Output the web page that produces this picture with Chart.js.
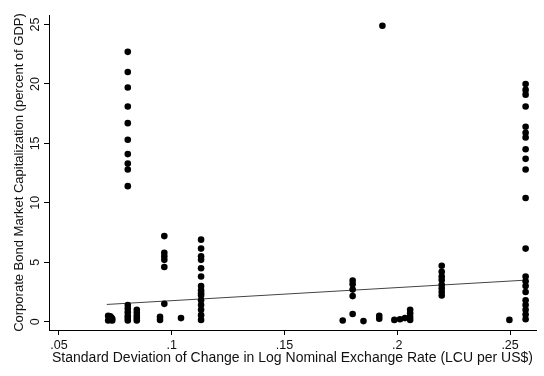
<!DOCTYPE html>
<html>
<head>
<meta charset="utf-8">
<script src="https://cdn.jsdelivr.net/npm/chart.js@4"></script>
<style>
  body { margin: 0; background: #fff; }
  #wrap { width: 544px; height: 376px; }
</style>
</head>
<body>
<div id="wrap"><canvas id="chart"></canvas></div>
<script>
// x position of each column of countries, and the values stacked at it
const colX = [0.0718, 0.0722, 0.0727, 0.0732, 0.0736, 0.0805, 0.0845, 0.0948, 0.0967, 0.1041,
  0.113, 0.1758, 0.1802, 0.185, 0.192, 0.1934, 0.1987, 0.2012, 0.2034, 0.2057, 0.2197, 0.2497, 0.2569];
const colY = [
  [0.5, 0.1], [0.3, 0.4], [0.2, 0.45], [0.35, 0.15], [0.25, 0.1],
  [22.7, 21.0, 19.7, 18.1, 16.7, 15.3, 14.1, 13.3, 12.8, 11.4, 1.4, 1.1, 0.8, 0.5, 0.3, 0.1],
  [1.0, 0.75, 0.5, 0.3, 0.1],
  [0.4, 0.15],
  [7.2, 5.8, 5.5, 5.2, 4.6, 1.5],
  [0.3],
  [6.9, 6.15, 5.5, 5.2, 4.5, 3.8, 3.0, 2.65, 2.4, 2.2, 1.8, 1.4, 1.0, 0.55, 0.15],
  [0.1],
  [3.45, 3.15, 2.7, 2.15, 0.65],
  [0.05],
  [0.5, 0.25],
  [24.9],
  [0.15],
  [0.2],
  [0.3],
  [1.0, 0.7, 0.4, 0.15],
  [4.7, 4.2, 3.8, 3.5, 3.1, 2.8, 2.5, 2.2],
  [0.15],
  [20.0, 19.5, 19.1, 18.1, 16.4, 15.9, 15.5, 14.5, 13.7, 12.8, 10.4, 6.15, 3.8, 3.4, 3.0, 2.5, 1.8, 1.4, 1.0, 0.6, 0.2]
];

// fitted line end points
const fitX = [0.0712, 0.2575];
const fitY = [1.45, 3.5];

const xTicks = [0.05, 0.1, 0.15, 0.2, 0.25];
const xTickLabels = ['.05', '.1', '.15', '.2', '.25'];
const yTicks = [0, 5, 10, 15, 20, 25];
const yTickLabels = ['0', '5', '10', '15', '20', '25'];

const points = [];
colX.forEach((x, i) => {
  colY[i].forEach(y => points.push({ x: x, y: y }));
});
const fitLine = fitX.map((x, i) => ({ x: x, y: fitY[i] }));

const font = 'Liberation Sans, Arial, sans-serif';

new Chart(document.getElementById('chart'), {
  type: 'scatter',
  data: {
    datasets: [
      {
        data: points,
        backgroundColor: '#000',
        borderWidth: 0,
        pointRadius: 3.3
      },
      {
        type: 'line',
        data: fitLine,
        borderColor: '#444',
        borderWidth: 1,
        pointRadius: 0,
        fill: false
      }
    ]
  },
  options: {
    responsive: true,
    maintainAspectRatio: false,
    animation: false,
    layout: { padding: { top: 15, right: 8, left: 0, bottom: 0 } },
    plugins: { legend: { display: false }, tooltip: { enabled: false } },
    scales: {
      x: {
        type: 'linear',
        min: 0.04557,
        max: 0.2615,
        afterBuildTicks: s => { s.ticks = xTicks.map(v => ({ value: v })); },
        afterFit: s => { s.height = 46; },
        ticks: {
          padding: 3,
          color: '#111',
          font: { family: font, size: 12.5 },
          callback: (v, i) => xTickLabels[i]
        },
        grid: { drawOnChartArea: false, drawTicks: true, tickLength: 5, color: '#000' },
        border: { display: true, color: '#000', width: 1 },
        title: {
          display: true,
          text: 'Standard Deviation of Change in Log Nominal Exchange Rate (LCU per US$)',
          color: '#111',
          font: { family: font, size: 14 },
          padding: { top: 0, bottom: 9 }
        }
      },
      y: {
        type: 'linear',
        min: -0.7,
        max: 25.8,
        afterBuildTicks: s => { s.ticks = yTicks.map(v => ({ value: v })); },
        afterFit: s => { s.width = 49; },
        ticks: {
          minRotation: 90,
          maxRotation: 90,
          crossAlign: 'center',
          padding: 2,
          color: '#111',
          font: { family: font, size: 12.5 },
          callback: (v, i) => yTickLabels[i]
        },
        grid: { drawOnChartArea: false, drawTicks: true, tickLength: 5, color: '#000' },
        border: { display: true, color: '#000', width: 1 },
        title: {
          display: true,
          text: 'Corporate Bond Market Capitalization (percent of GDP)',
          color: '#111',
          font: { family: font, size: 13 },
          padding: { top: 12, bottom: 0 }
        }
      }
    }
  }
});
</script>
</body>
</html>
